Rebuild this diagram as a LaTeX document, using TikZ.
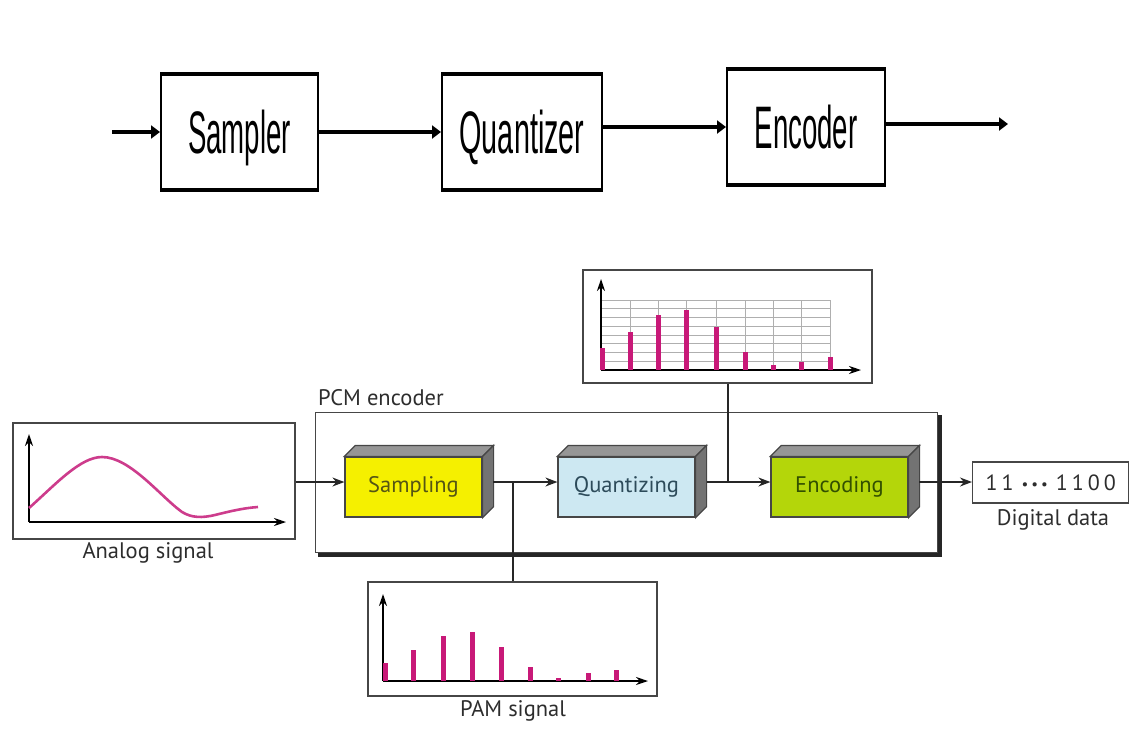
\documentclass[tikz,border=0pt]{standalone}
\usepackage{fontspec}
\setmainfont{PT Sans}
\newfontfamily\topfont{Liberation Sans}
\usetikzlibrary{arrows.meta,calc}
\definecolor{sampY}{RGB}{245,240,0}
\definecolor{quantB}{RGB}{205,232,242}
\definecolor{encG}{RGB}{180,214,10}
\definecolor{sideG}{RGB}{115,115,115}
\definecolor{topG}{RGB}{150,150,150}
\definecolor{mag}{RGB}{200,25,120}
\definecolor{curveC}{RGB}{205,60,140}
\definecolor{txtG}{RGB}{45,45,45}
\definecolor{lineG}{RGB}{70,70,70}
\definecolor{gridG}{RGB}{175,175,175}
\newcommand{\smalldot}{{\fontsize{15}{15}\selectfont\raisebox{1pt}{•}}}
\tikzset{
  topbox/.style={draw=black, line width=2pt, minimum height=114pt, inner sep=0pt,
    text depth=0pt, font=\topfont\fontsize{60}{60}\selectfont},
  toparr/.style={line width=3.8pt, -{Triangle[length=9pt,width=13pt]}},
  frame/.style={draw=lineG, line width=1.4pt, inner sep=0pt},
  blk/.style={draw=lineG, line width=1.2pt, minimum width=137pt, minimum height=60pt,
    inner sep=0pt, font=\fontsize{22.5}{22.5}\selectfont},
  arr/.style={line width=1.3pt, draw=black!85, -{Stealth[length=12pt,width=9pt]}},
  plain/.style={line width=1.3pt, draw=black!85},
  axis/.style={line width=1.3pt, -{Stealth[length=12pt,width=8pt]}},
  bar/.style={draw=mag, line width=5pt},
  gridl/.style={draw=gridG, line width=0.9pt},
  lbl/.style={text=txtG, font=\fontsize{22.5}{22.5}\selectfont, inner sep=0pt}
}
\begin{document}
\begin{tikzpicture}[x=1pt,y=-1pt]
\useasboundingbox (0,0) rectangle (1133,729);

% ---------- top row ----------
\node[topbox, minimum width=157pt] (sampler) at (239.5,132) {\scalebox{0.46}[1]{Sampler}};
\node[topbox, minimum width=160pt] (quantizer) at (522,132) {\scalebox{0.48}[1]{Quantizer}};
\node[topbox, minimum width=158pt] (encoder) at (806,127) {\scalebox{0.46}[1]{Encoder}};
\foreach \n in {sampler,quantizer,encoder}{
  \draw[line width=4.5pt] (\n.north west) -- (\n.north east);
  \draw[line width=4.5pt] (\n.south west) -- (\n.south east);
}
\coordinate (tin) at (112,132);
\coordinate (tout) at (1008,124);
\draw[toparr] (tin) -- (sampler.west);
\draw[toparr] (sampler.east) -- (quantizer.west);
\draw[toparr] (quantizer.east |- encoder.west) -- (encoder.west);
\draw[toparr] (encoder.east |- tout) -- (tout);

% ---------- PCM encoder frame ----------
\node[frame, minimum width=622pt, minimum height=140pt, anchor=north west] (pcm) at (315,412) {};
\draw[line width=4pt, black!85] ($(pcm.south west)+(3,1.5)$) -- ($(pcm.south east)+(1.5,1.5)$) -- ($(pcm.north east)+(1.5,3)$);
\node[lbl, anchor=base west] (pcmlbl) at (318,405) {PCM encoder};

% ---------- 3D blocks ----------
\node[blk, fill=sampY, text={rgb,255:red,85;green,85;blue,20}] (samp) at (413.5,487) {Sampling};
\node[blk, fill=quantB, text={rgb,255:red,45;green,75;blue,90}] (quant) at (626.5,487) {Quantizing};
\node[blk, fill=encG, text={rgb,255:red,50;green,80;blue,0}] (enc) at (839.5,487) {Encoding};
\foreach \n in {samp,quant,enc}{
  \draw[draw=lineG, line width=1.2pt, fill=topG] (\n.north west) -- ++(11,-11) -- ($(\n.north east)+(11,-11)$) -- (\n.north east) -- cycle;
  \draw[draw=lineG, line width=1.2pt, fill=sideG] (\n.north east) -- ++(11,-11) -- ($(\n.south east)+(11,-11)$) -- (\n.south east) -- cycle;
}

% ---------- signal boxes ----------
\node[frame, minimum width=282pt, minimum height=116pt] (analog) at (154,481) {};
\node[lbl] (analoglbl) at (148,553) {Analog signal};
\node[frame, minimum width=289pt, minimum height=113pt] (qchart) at (727.5,326.5) {};
\node[frame, minimum width=289pt, minimum height=114pt] (pam) at (512.5,639) {};
\node[lbl] (pamlbl) at (513,711) {PAM signal};
\node[frame, minimum width=156pt, minimum height=41pt, anchor=west, text=txtG,
  font=\fontsize{22}{22}\selectfont] (digital) at (972,482.5)
  {1\hspace{4pt}1\hspace{8pt}\smalldot\hspace{3pt}\smalldot\hspace{3pt}\smalldot\hspace{8pt}1\hspace{4pt}1\hspace{4pt}0\hspace{4pt}0};
\node[lbl] (digitallbl) at (1053,520) {Digital data};

% ---------- connectors ----------
\coordinate (row) at (0,482);
\coordinate (sampout) at (493,482);
\coordinate (quantout) at (707,482);
\coordinate (encout) at (919,482);
\coordinate (br1) at (513,482);
\coordinate (br2) at (728,482);
\draw[arr] (analog.east |- row) -- (samp.west |- row);
\draw[arr] (sampout) -- (quant.west |- row);
\draw[arr] (quantout) -- (enc.west |- row);
\draw[arr] (encout) -- (digital.west |- row);
\draw[plain] (br1) -- (br1 |- pam.north);
\draw[plain] (br2) -- (br2 |- qchart.south);

% ---------- analog chart ----------
\draw[axis] (29,522) -- (29,434);
\draw[axis] (29,522) -- (286,522);
\draw[curveC, line width=2.6pt] (29,508) .. controls (55,485) and (80,457) .. (102,457)
  .. controls (130,457) and (160,496) .. (182,512)
  .. controls (192,518) and (202,518) .. (215,515)
  .. controls (235,510) and (245,508) .. (258,507);

% ---------- quantized chart ----------
\foreach \k in {0,...,8} \draw[gridl] (601,370-8.75*\k) -- (830,370-8.75*\k);
\foreach \x in {630,658.3,686.7,716,745,773.3,801.7,830} \draw[gridl] (\x,300) -- (\x,370);
\draw[axis] (601,370) -- (601,279);
\draw[axis] (601,370) -- (861,370);
\foreach \x/\h in {602/21.7, 630/38.3, 658.3/55, 686.7/60, 716/43.3, 745/17.7, 773.3/5, 801.7/8.3, 830/13.3}
  \draw[bar] (\x,370) -- (\x,370-\h);

% ---------- PAM chart ----------
\draw[axis] (383,681) -- (383,594);
\draw[axis] (383,681) -- (648,681);
\foreach \x/\h in {385/17.7, 413/31, 443/45.3, 472/49.3, 501/34.3, 530/14.3, 558/3.3, 588/7.7, 616/11}
  \draw[bar] (\x,681) -- (\x,681-\h);
\end{tikzpicture}
\end{document}
